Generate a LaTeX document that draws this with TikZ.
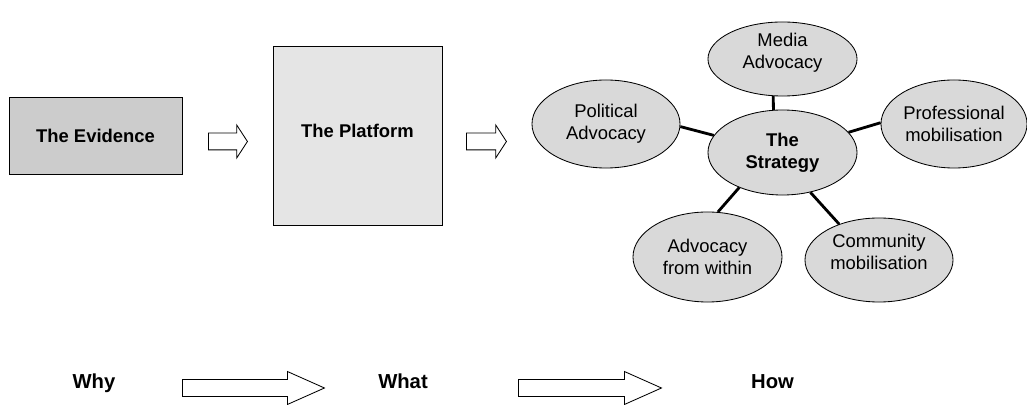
\documentclass[tikz,border=0pt]{standalone}
\usepackage{fontspec}
\setmainfont{Liberation Sans}
\usetikzlibrary{shapes.geometric,shapes.arrows}

\tikzstyle{evidence} = [rectangle, minimum width=4.325cm, minimum height=1.925cm, text centered, draw=black, fill=black!20, font=\fontsize{13.1}{15.65}\selectfont\bfseries]
\tikzstyle{platform} = [rectangle, minimum width=4.225cm, minimum height=4.475cm, draw=black, fill=black!10]
\tikzstyle{bubble} = [ellipse, minimum width=3.7cm, minimum height=2.2cm, inner sep=0pt, align=center, draw=black, fill=black!15]
\tikzstyle{link} = [line width=2pt]
\tikzstyle{bigarrow} = [single arrow, draw=black, fill=white, anchor=tail, inner xsep=0pt, inner ysep=0.2cm, single arrow head extend=0.2cm]
\tikzstyle{word} = [font=\fontsize{14.4}{17}\selectfont\bfseries, anchor=base]

\begin{document}
\begin{tikzpicture}[x=0.025cm, y=-0.025cm, line width=0.6pt, font=\fontsize{13.1}{15.65}\selectfont]
	\useasboundingbox (0,0) rectangle (1027,405);
	% Place nodes
	\node [evidence] (Evidence) at (95.5,135.5) {The Evidence};
	\node [platform] (Platform) at (357.5,135.5) {};
	\node [font=\fontsize{13.1}{15.65}\selectfont\bfseries] (PlatformText) at (357.5,130.5) {The Platform};
	\node [bigarrow, minimum height=0.975cm, single arrow tip angle=114] (ArrowA) at (208,141.5) {};
	\node [bigarrow, minimum height=1cm, single arrow tip angle=114] (ArrowB) at (466,141.5) {};
	\node [bubble, font=\fontsize{13.1}{15.65}\selectfont\bfseries, minimum width=3.725cm, minimum height=2.125cm] (Strategy) at (782.5,152.5) {The\\Strategy};
	\node [bubble, minimum width=3.725cm, minimum height=1.85cm, text depth=0.4cm] (Media) at (782.5,59) {Media\\Advocacy};
	\node [bubble] (Political) at (606,124) {Political\\Advocacy};
	\node [bubble, minimum width=3.65cm] (Professional) at (954,124) {Professional\\mobilisation};
	\node [bubble, minimum width=3.725cm, minimum height=2.25cm] (Within) at (707.5,257) {Advocacy\\from within};
	\node [bubble, minimum height=2.1cm, text depth=0.4cm] (Community) at (879,260) {Community\\mobilisation};
	\node [word] (Why) at (94,389) {Why};
	\node [word] (What) at (403,389) {What};
	\node [word] (How) at (772.5,389) {How};
	\node [bigarrow, minimum height=3.55cm, single arrow tip angle=48] (ArrowC) at (182,388) {};
	\node [bigarrow, minimum height=3.575cm, single arrow tip angle=48] (ArrowD) at (518,388) {};
	% Draw edges
	\draw [link] (Strategy.102) -- (Media.256);
	\draw [link] (Strategy.166) -- (Political.358);
	\draw [link] (Strategy.17) -- (Professional.179);
	\draw [link] (Strategy.219) -- (Within.77);
	\draw [link] (Strategy.305) -- (Community.138);
\end{tikzpicture}
\end{document}
